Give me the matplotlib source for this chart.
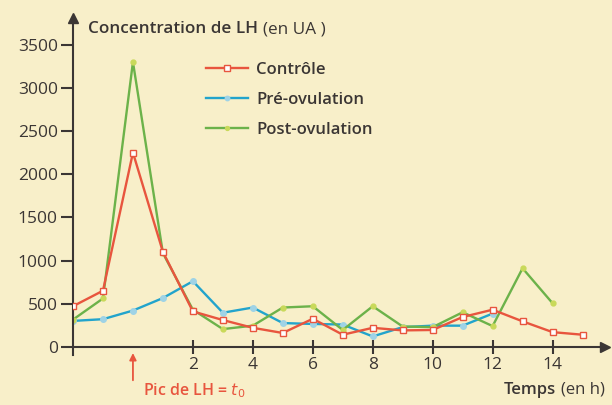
import numpy as np
import matplotlib.pyplot as plt

# temps en h (t0 = pic de LH)
t_controle = [-2, -1, 0, 1, 2, 3, 4, 5, 6, 7, 8, 9, 10, 11, 12, 13, 14, 15]
controle = [470, 650, 2250, 1100, 410, 310, 220, 160, 325, 140, 220, 190, 195, 345, 430, 295, 170, 140]

t_pre = [-2, -1, 0, 1, 2, 3, 4, 5, 6, 7, 8, 9, 10, 11, 12]
pre_ovulation = [300, 320, 420, 565, 760, 395, 455, 275, 265, 258, 120, 228, 245, 245, 385]

t_post = [-2, -1, 0, 1, 2, 3, 4, 5, 6, 7, 8, 9, 10, 11, 12, 13, 14]
post_ovulation = [315, 560, 3300, 1085, 430, 205, 245, 455, 470, 195, 470, 235, 228, 400, 240, 910, 505]

x_ticks = [2, 4, 6, 8, 10, 12, 14]
y_ticks = [0, 500, 1000, 1500, 2000, 2500, 3000, 3500]

bg = '#f8efc9'
axis_col = '#3b3634'
red = '#e8553e'
blue = '#22a4cc'
green = '#6cb24a'

plt.rcParams['font.family'] = ['Open Sans', 'DejaVu Sans']

fig = plt.figure(figsize=(6.12, 4.05), dpi=100, facecolor=bg)
ax = fig.add_axes([73 / 612, (405 - 355) / 405, 532 / 612, (355 - 18) / 405])
ax.set_facecolor(bg)

ax.plot(t_controle, controle, color=red, lw=1.7, marker='s', ms=4.8,
        mfc='white', mec=red, mew=1.0, label='Contrôle', zorder=3)
ax.plot(t_pre, pre_ovulation, color=blue, lw=1.7, marker='o', ms=4,
        mfc='#9fd3e6', mec='#9fd3e6', label='Pré-ovulation', zorder=2)
ax.plot(t_post, post_ovulation, color=green, lw=1.7, marker='o', ms=3.5,
        mfc='#c9d95a', mec='#c9d95a', label='Post-ovulation', zorder=2)

ax.set_xlim(-2, 15.75)
ax.set_ylim(-95, 3810)

for s in ['top', 'right']:
    ax.spines[s].set_visible(False)
ax.spines['bottom'].set_position(('data', 0))
for s in ['left', 'bottom']:
    ax.spines[s].set_color(axis_col)
    ax.spines[s].set_linewidth(1.5)

# fleches des axes
ax.plot(1, 0, '>', color=axis_col, ms=7, transform=ax.get_yaxis_transform(), clip_on=False)
ax.plot(-2, 1, '^', color=axis_col, ms=7, transform=ax.get_xaxis_transform(), clip_on=False)

ax.set_xticks(x_ticks)
ax.set_yticks(y_ticks)
ax.tick_params(axis='y', direction='out', length=9, width=1.5, color=axis_col,
               labelsize=12.5, labelcolor=axis_col, pad=2)
ax.tick_params(axis='x', direction='inout', length=10, width=1.5, color=axis_col,
               labelsize=12.5, labelcolor=axis_col, pad=2)

leg = ax.legend(loc='upper left', bbox_to_anchor=(191 / 612, 1 - 47 / 405),
                bbox_transform=fig.transFigure, frameon=False, fontsize=12,
                handlelength=2.5, handletextpad=0.5, labelspacing=0.85,
                markerscale=0.8)
for txt in leg.get_texts():
    txt.set_fontweight('semibold')
    txt.set_color(axis_col)

# titre de l'axe y
fig.canvas.draw()
r = fig.canvas.get_renderer()
t1 = fig.text(88 / 612, 1 - 29 / 405, 'Concentration de LH', fontsize=12.3,
              fontweight='semibold', color=axis_col, va='center')
bb = t1.get_window_extent(r)
fig.text(bb.x1 / 612 + 5 / 612, 1 - 29 / 405, '(en UA )', fontsize=12.3,
         color=axis_col, va='center')

# titre de l'axe x
t2 = fig.text(605 / 612, 1 - 390 / 405, '(en h)', fontsize=12, color=axis_col,
              va='center', ha='right')
bb2 = t2.get_window_extent(r)
fig.text(bb2.x0 / 612 - 5 / 612, 1 - 390 / 405, 'Temps', fontsize=12,
         fontweight='semibold', color=axis_col, va='center', ha='right')

# pic de LH
ax.annotate('', xy=(0, -40), xytext=(0, -420), textcoords='data',
            arrowprops=dict(arrowstyle='-|>', color=red, lw=1.3, mutation_scale=10),
            annotation_clip=False)
fig.text(143 / 612, 1 - 391 / 405, 'Pic de LH = $t_0$', fontsize=11.5,
         color=red, va='center', fontweight='semibold')

fig.savefig('out.png', dpi=100, facecolor=bg)
